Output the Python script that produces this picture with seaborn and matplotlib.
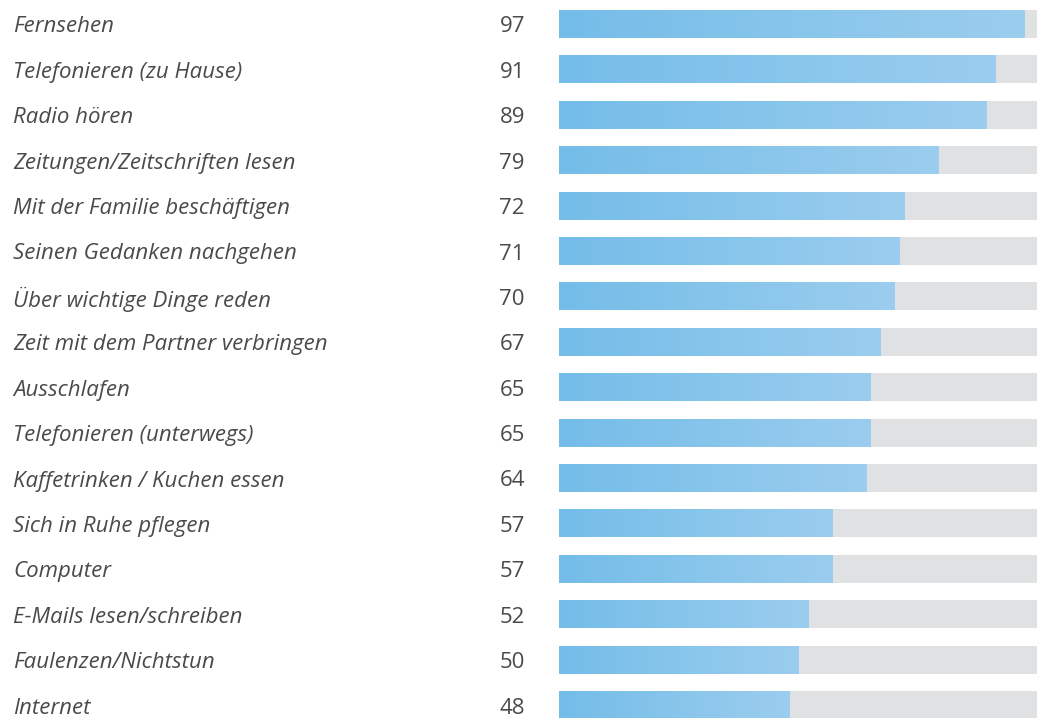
import numpy as np
import matplotlib
matplotlib.use("Agg")
import matplotlib.pyplot as plt
import seaborn as sns
import pandas as pd
from matplotlib.colors import LinearSegmentedColormap
from matplotlib.transforms import blended_transform_factory

categories = [
    "Fernsehen", "Telefonieren (zu Hause)", "Radio hören",
    "Zeitungen/Zeitschriften lesen", "Mit der Familie beschäftigen",
    "Seinen Gedanken nachgehen", "Über wichtige Dinge reden",
    "Zeit mit dem Partner verbringen", "Ausschlafen",
    "Telefonieren (unterwegs)", "Kaffetrinken / Kuchen essen",
    "Sich in Ruhe pflegen", "Computer", "E-Mails lesen/schreiben",
    "Faulenzen/Nichtstun", "Internet",
]
values = [97, 91, 89, 79, 72, 71, 70, 67, 65, 65, 64, 57, 57, 52, 50, 48]
full = [100] * len(values)

df = pd.DataFrame({"cat": categories, "val": values, "full": full})

sns.set_theme(style="white")
plt.rcParams["font.family"] = ["Open Sans", "DejaVu Sans"]

W, H = 1037, 718
fig = plt.figure(figsize=(W / 100, H / 100), dpi=100)
x0 = 559
ax = fig.add_axes([x0 / W, 0, (W - x0) / W, 1])

step = 45.4
bh = 28 / step
xmax = 478 / 4.8
sns.barplot(data=df, x="full", y="cat", color="#e0e1e3", width=bh, ax=ax,
            saturation=1, orient="h", linewidth=0)
n_bg = len(ax.patches)
sns.barplot(data=df, x="val", y="cat", color="#7dc1ea", width=bh, ax=ax,
            saturation=1, orient="h", linewidth=0)

cmap = LinearSegmentedColormap.from_list("g", ["#74bde9", "#9bcdee"])
grad = np.linspace(0, 1, 256).reshape(1, -1)
for p in ax.patches[n_bg:]:
    x, y = p.get_x(), p.get_y()
    w, h = p.get_width(), p.get_height()
    im = ax.imshow(grad, cmap=cmap, aspect="auto",
                   extent=(x, x + w, y + h, y), zorder=p.get_zorder() + 0.1,
                   interpolation="bilinear")
    im.set_clip_path(p)
ax.set_xlim(0, xmax)
ax.set_ylim(15 + 13 / step, -24 / step)

ax.set_axis_off()

tr = blended_transform_factory(fig.transFigure, ax.transData)
txt_color = "#4a4a4a"
dy = 3 / step
for i, (c, v) in enumerate(zip(categories, values)):
    ax.text(13 / W, i + dy, c, transform=tr, ha="left", va="center",
            fontsize=16, style="italic", color=txt_color, clip_on=False)
    ax.text(525 / W, i + dy, str(v), transform=tr, ha="right", va="center",
            fontsize=16, color=txt_color, clip_on=False)

fig.savefig("out.png", dpi=100)
